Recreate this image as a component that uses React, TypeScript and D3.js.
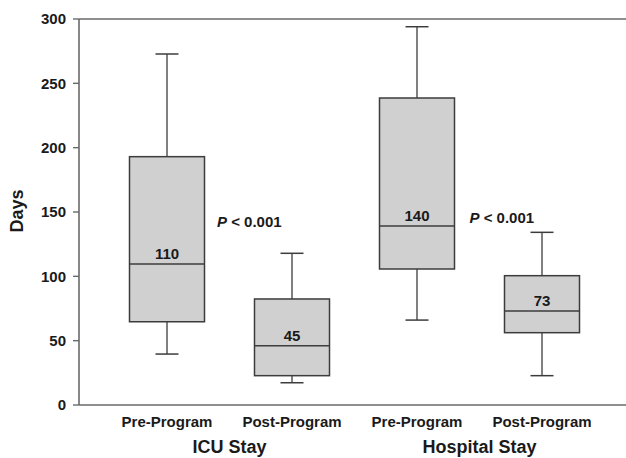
import React from "react";
import * as d3 from "d3";

const categories = ["Pre-Program", "Post-Program", "Pre-Program", "Post-Program"];
const groups = ["ICU Stay", "Hospital Stay"];
const mins = [39.6, 17.3, 66, 22.8];
const q1s = [64.7, 22.8, 105.7, 56.2];
const medians = [109.6, 46.1, 139.1, 73.1];
const q3s = [193, 82.4, 238.6, 100.5];
const maxs = [272.8, 117.9, 294, 134.2];
const medianLabels = ["110", "45", "140", "73"];
const yTicks = [0, 50, 100, 150, 200, 250, 300];
const pLabels = [
  { x: 1.4, y: 138 },
  { x: 3.42, y: 141.5 },
];

const W = 626;
const H = 458;
const FONT = "Arial, 'Liberation Sans', Helvetica, sans-serif";

export default function App() {
  const x = d3.scaleLinear().domain([0.296, 4.672]).range([79, 626]);
  const y = d3.scaleLinear().domain([0, 300]).range([405, 19]);
  const boxHalf = (x(1.3) - x(1)) ;
  const capHalf = 11.5;
  const textColor = "#1a1a1a";
  const boxStroke = "#3c3c3c";
  const axisColor = "#6a6a6a";

  return (
    <svg
      width={W}
      height={H}
      style={{ position: "absolute", left: 0, top: 0, background: "#fff" }}
      fontFamily={FONT}
    >
      {/* frame lines */}
      <line x1={x.range()[0]} x2={W} y1={y(300)} y2={y(300)} stroke={axisColor} strokeWidth={1.6} />
      <line x1={x.range()[0]} x2={W} y1={y(0)} y2={y(0)} stroke={axisColor} strokeWidth={1.6} />
      <line x1={79} x2={79} y1={y(300)} y2={y(0)} stroke={axisColor} strokeWidth={1.6} />
      {/* y ticks */}
      {yTicks.map((t) => (
        <g key={t}>
          <line x1={73} x2={79} y1={y(t)} y2={y(t)} stroke={axisColor} strokeWidth={1.4} />
          <text
            x={66}
            y={y(t)}
            dy="0.36em"
            textAnchor="end"
            fontSize={15}
            fontWeight="bold"
            fill={textColor}
          >
            {t}
          </text>
        </g>
      ))}
      <text
        transform={`translate(23,${211}) rotate(-90)`}
        textAnchor="middle"
        fontSize={18}
        fontWeight="bold"
        fill={textColor}
      >
        Days
      </text>
      {/* boxes */}
      {categories.map((c, i) => {
        const cx = x(i + 1);
        return (
          <g key={i}>
            <line x1={cx} x2={cx} y1={y(maxs[i])} y2={y(q3s[i])} stroke={boxStroke} strokeWidth={1.3} />
            <line x1={cx} x2={cx} y1={y(q1s[i])} y2={y(mins[i])} stroke={boxStroke} strokeWidth={1.3} />
            <line x1={cx - capHalf} x2={cx + capHalf} y1={y(maxs[i])} y2={y(maxs[i])} stroke={boxStroke} strokeWidth={1.5} />
            <line x1={cx - capHalf} x2={cx + capHalf} y1={y(mins[i])} y2={y(mins[i])} stroke={boxStroke} strokeWidth={1.5} />
            <rect
              x={cx - boxHalf}
              y={y(q3s[i])}
              width={boxHalf * 2}
              height={y(q1s[i]) - y(q3s[i])}
              fill="#d0d0d0"
              stroke={boxStroke}
              strokeWidth={1.5}
            />
            <line x1={cx - boxHalf} x2={cx + boxHalf} y1={y(medians[i])} y2={y(medians[i])} stroke={boxStroke} strokeWidth={1.4} />
            <text
              x={cx}
              y={y(medians[i]) - 5}
              textAnchor="middle"
              fontSize={15}
              fontWeight="bold"
              fill={textColor}
            >
              {medianLabels[i]}
            </text>
            <text
              x={cx}
              y={427}
              textAnchor="middle"
              fontSize={15}
              fontWeight="bold"
              fill={textColor}
            >
              {c}
            </text>
          </g>
        );
      })}
      {groups.map((g, gi) => (
        <text
          key={g}
          x={(x(gi * 2 + 1) + x(gi * 2 + 2)) / 2}
          y={453}
          textAnchor="middle"
          fontSize={18}
          fontWeight="bold"
          fill={textColor}
        >
          {g}
        </text>
      ))}
      {pLabels.map((p, i) => (
        <text
          key={i}
          x={x(p.x)}
          y={y(p.y)}
          fontSize={15}
          fontWeight="bold"
          fill={textColor}
        >
          <tspan fontStyle="italic">P</tspan>
          <tspan> &lt; 0.001</tspan>
        </text>
      ))}
    </svg>
  );
}
